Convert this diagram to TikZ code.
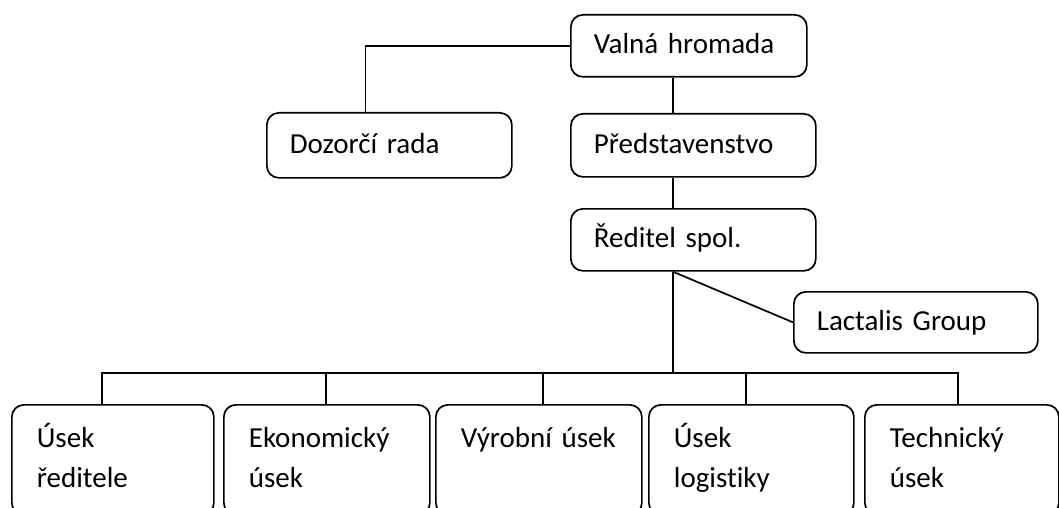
\documentclass[tikz,border=0pt]{standalone}
\usepackage{fontspec}
\setmainfont{Carlito}[Ligatures=NoCommon]
\usetikzlibrary{positioning}

\newcommand{\orgfont}{\fontsize{29}{40}\selectfont}

\tikzset{
  orgbox/.style={draw, line width=1.7pt, rounded corners=12pt, anchor=north west,
    align=left, inner ysep=0pt, font=\orgfont},
  topbox/.style={orgbox, inner xsep=23pt, text width=#1, minimum height=63pt},
  unitbox/.style={orgbox, inner xsep=25pt, text width=#1, minimum height=110pt},
  link/.style={line width=1.7pt}
}

\begin{document}
\begin{tikzpicture}[x=1pt, y=-1pt]
        \clip (0,0) rectangle (1059,508);
        % top of the tree
        \node[topbox=190pt, minimum height=62pt] (valna) at (570,14) {\strut Valná hromada};
        \node[topbox=199pt, minimum height=65pt] (dozor) at (266,112) {\strut Dozorčí rada};
        \node[topbox=199pt] (pred) at (570,113) {\strut Představenstvo};
        \node[topbox=199pt, minimum height=62pt] (reditel) at (570,208) {\strut Ředitel spol.};
        \node[topbox=198pt, minimum height=61pt] (lactalis) at (793,291) {\strut Lactalis Group};
        % units
        \node[unitbox=152pt] (usekred) at (11,404) {\strut Úsek\\\strut ředitele};
        \node[unitbox=156pt] (ekon) at (223,404) {\strut Ekonomický\\\strut úsek};
        \node[unitbox=156pt] (vyroba) at (435,404) {\strut Výrobní úsek\\\strut};
        \node[unitbox=155pt] (logist) at (648,404) {\strut Úsek\\\strut logistiky};
        \node[unitbox=144pt] (tech) at (864,404) {\strut Technický\\\strut úsek};

        \coordinate (spine) at (673,0);
        \coordinate (busL) at (102,373);
        \coordinate (busR) at (958,373);

        \draw[link] (valna.west) -| ([xshift=-24pt]dozor.north);
        \draw[link] (valna.south -| spine) -- (pred.north -| spine);
        \draw[link] (pred.south -| spine) -- (reditel.north -| spine);
        \draw[link] (reditel.south -| spine) -- (busL -| spine);
        \draw[link] (reditel.south -| spine) -- (lactalis.west);
        \draw[link] (usekred.north -| busL) -- (busL) -- (busR) -- (tech.north -| busR);
        \foreach \unit/\dropx in {ekon/326, vyroba/543, logist/746}
          \draw[link] (\dropx,373) -- (\unit.north -| \dropx,0);
\end{tikzpicture}
\end{document}
